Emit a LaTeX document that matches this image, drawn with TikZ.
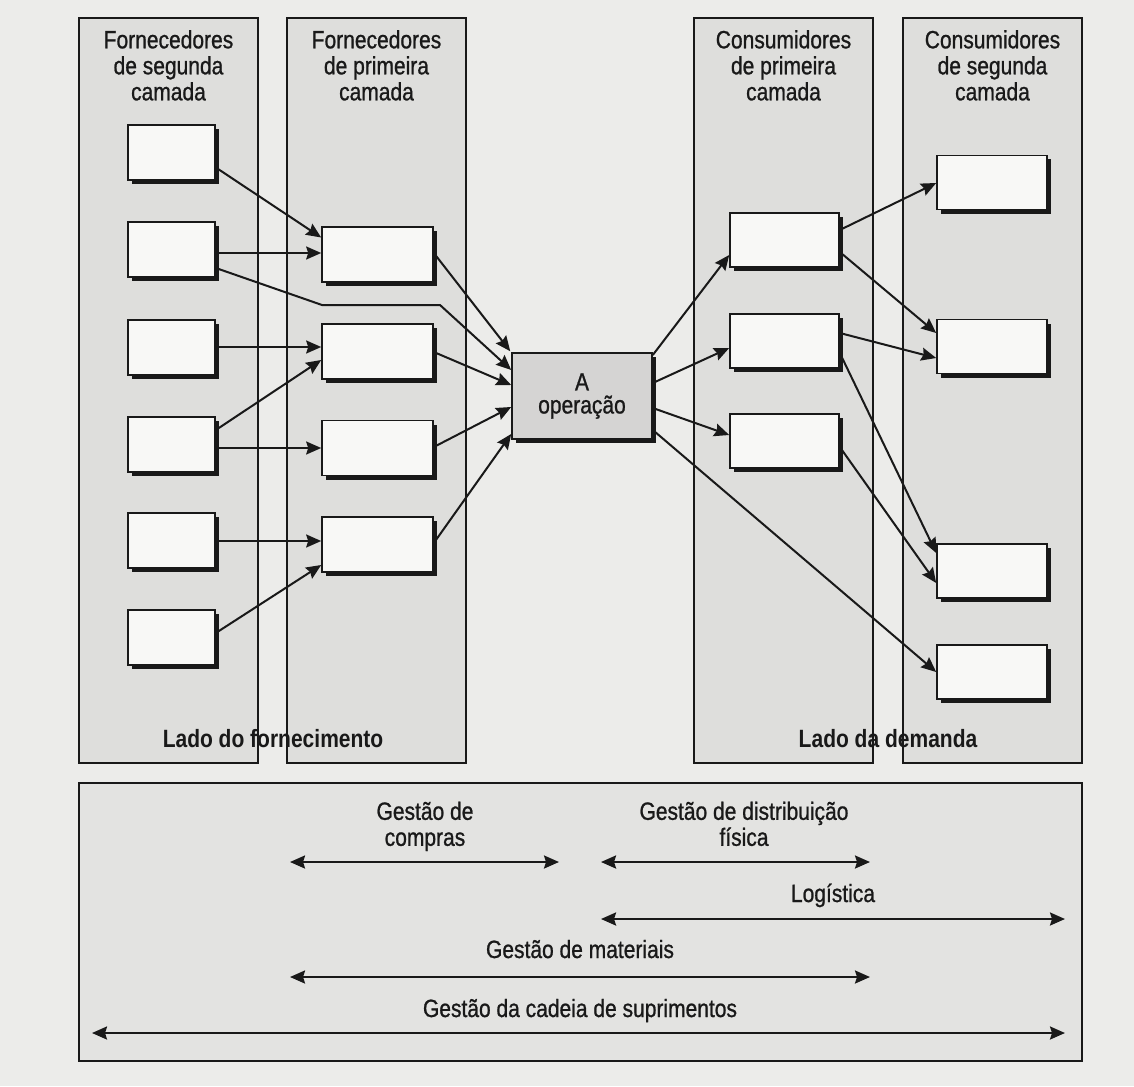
\documentclass[tikz,border=0pt]{standalone}
\usepackage{fontspec}
\setmainfont{Liberation Sans}[FakeStretch=0.84, UprightFeatures={FakeBold=0.9}]
\usetikzlibrary{arrows.meta,calc,shadows}

\definecolor{paper}{RGB}{236,236,234}
\definecolor{colfill}{RGB}{222,222,220}
\definecolor{bandfill}{RGB}{227,227,225}
\definecolor{unitfill}{RGB}{248,248,246}
\definecolor{opfill}{RGB}{213,212,211}
\definecolor{ink}{RGB}{25,25,25}

\tikzset{
  column/.style={draw=ink, fill=colfill, line width=1.5pt, inner sep=0pt,
    minimum width=179pt, minimum height=745pt},
  head/.style={anchor=north, align=center, inner sep=0pt, text=ink,
    font=\fontsize{25}{26}\selectfont},
  side/.style={anchor=base, inner sep=0pt, text=ink,
    font=\fontsize{25}{26}\selectfont\bfseries},
  label/.style={align=center, inner sep=0pt, text=ink,
    font=\fontsize{25}{26}\selectfont},
  unit/.style={draw=ink, fill=unitfill, line width=1.6pt, inner sep=0pt,
    drop shadow={opacity=1, fill=ink, shadow xshift=4pt, shadow yshift=-4pt}},
  tierA/.style={unit, minimum width=87pt, minimum height=55pt},
  tierB/.style={unit, minimum width=111pt, minimum height=55pt},
  tierC/.style={unit, minimum width=109pt, minimum height=54pt},
  tierD/.style={unit, minimum width=110pt, minimum height=54pt},
  opbox/.style={draw=ink, fill=opfill, line width=1.6pt, inner sep=0pt,
    minimum width=140pt, minimum height=86pt, align=center, text=ink,
    font=\fontsize{25}{23}\selectfont,
    drop shadow={opacity=1, fill=ink, shadow xshift=4pt, shadow yshift=-4pt}},
  conn/.style={draw=ink, line width=2pt, line join=round,
    -{Stealth[length=15pt, width=13pt, inset=2pt]}},
  span/.style={draw=ink, line width=2.3pt,
    {Stealth[length=15pt, width=13pt, inset=2pt]}-{Stealth[length=15pt, width=13pt, inset=2pt]}},
}

\begin{document}
\begin{tikzpicture}[x=1pt, y=-1pt]
  % page
  \fill[paper] (0,0) rectangle (1134,1086);
  \useasboundingbox (0,0) rectangle (1134,1086);

  % the four tiers
  \node[column] (col1) at (168.5,390.5) {};
  \node[column] (col2) at (376.5,390.5) {};
  \node[column] (col3) at (783.5,390.5) {};
  \node[column] (col4) at (992.5,390.5) {};

  % band of management scopes
  \node[draw=ink, fill=bandfill, line width=1.5pt, inner sep=0pt,
        minimum width=1003pt, minimum height=278pt] (band) at (580.5,922) {};

  % headers
  \node[head] (h1) at (168.5,30) {Fornecedores\\de segunda\\camada};
  \node[head] (h2) at (376.5,30) {Fornecedores\\de primeira\\camada};
  \node[head] (h3) at (783.5,30) {Consumidores\\de primeira\\camada};
  \node[head] (h4) at (992.5,30) {Consumidores\\de segunda\\camada};

  % bend points of the routed link
  \coordinate (bendA) at (322,305);
  \coordinate (bendB) at (440,305);

  % units (placed first so the links can refer to them)
  \path
    (171.5,152.5) node[tierA] (b1) {}
    (171.5,249.5) node[tierA] (b2) {}
    (171.5,347.5) node[tierA] (b3) {}
    (171.5,444.5) node[tierA] (b4) {}
    (171.5,540.5) node[tierA] (b5) {}
    (171.5,637.5) node[tierA] (b6) {}
    (377.5,254.5) node[tierB] (c1) {}
    (377.5,351.5) node[tierB] (c2) {}
    (377.5,448)   node[tierB] (c3) {}
    (377.5,544.5) node[tierB] (c4) {}
    (784.5,240)   node[tierC] (d1) {}
    (784.5,341)   node[tierC] (d2) {}
    (784.5,441)   node[tierC] (d3) {}
    (992,182.5)   node[tierD] (e1) {}
    (992,346.5)   node[tierD] (e2) {}
    (992,571)     node[tierD] (e3) {}
    (992,672)     node[tierD] (e4) {};

  \node[opbox] (op) at (582,396) {A\\operação};

  % supply side links
  \draw[conn] ($(b1.east)+(0,15)$)   -- ($(c1.west)+(0,-17)$);
  \draw[conn] ($(b2.east)+(0,3.5)$)  -- ($(c1.west)+(0,-1.5)$);
  \draw[conn] ($(b2.east)+(0,18.5)$) -- (bendA) -- (bendB) -- ($(op.west)+(0,-26)$);
  \draw[conn] ($(b3.east)+(0,-0.5)$) -- ($(c2.west)+(0,-4.5)$);
  \draw[conn] ($(b4.east)+(0,-14.5)$) -- ($(c2.west)+(0,8.5)$);
  \draw[conn] ($(b4.east)+(0,3.5)$)  -- (c3.west);
  \draw[conn] ($(b5.east)+(0,0.5)$)  -- ($(c4.west)+(0,-3.5)$);
  \draw[conn] ($(b6.east)+(0,-4.5)$) -- ($(c4.west)+(0,20.5)$);
  \draw[conn] ($(c1.east)+(0,-1.5)$) -- ($(op.north west)+(-1,-1)$);
  \draw[conn] ($(c2.east)+(0,0.5)$)  -- ($(op.west)+(0,-11)$);
  \draw[conn] ($(c3.east)+(0,-1)$)   -- ($(op.west)+(0,11)$);
  \draw[conn] ($(c4.east)+(0,-1.5)$) -- ($(op.west)+(0,38)$);

  % demand side links
  \draw[conn] ($(op.east)+(0,-41)$) -- ($(d1.west)+(0,15)$);
  \draw[conn] ($(op.east)+(0,-13)$) -- ($(d2.west)+(0,7)$);
  \draw[conn] ($(op.east)+(0,12)$)  -- ($(d3.west)+(0,-6)$);
  \draw[conn] ($(op.east)+(0,34)$)  -- (e4.west);
  \draw[conn] ($(d1.east)+(0,-10)$) -- ($(e1.west)+(0,0.5)$);
  \draw[conn] ($(d1.east)+(0,12)$)  -- ($(e2.west)+(0,-13.5)$);
  \draw[conn] ($(d2.east)+(0,-8)$)  -- ($(e2.west)+(0,11.5)$);
  \draw[conn] ($(d2.east)+(0,12)$)  -- ($(e3.west)+(0,-18)$);
  \draw[conn] ($(d3.east)+(0,6)$)   -- ($(e3.west)+(0,12)$);

  % units drawn again on top of the link ends
  \foreach \u/\s in {b1/tierA,b2/tierA,b3/tierA,b4/tierA,b5/tierA,b6/tierA,
                     c1/tierB,c2/tierB,c3/tierB,c4/tierB,
                     d1/tierC,d2/tierC,d3/tierC,
                     e1/tierD,e2/tierD,e3/tierD,e4/tierD}
    \node[\s] at (\u.center) {};
  \node[opbox] at (op.center) {A\\operação};

  % side captions
  \node[side] (sup) at (273,747) {Lado do fornecimento};
  \node[side] (dem) at (888,747) {Lado da demanda};

  % scope arrows
  \coordinate (p1l) at (290,862);  \coordinate (p1r) at (559,862);
  \coordinate (p2l) at (601,862);  \coordinate (p2r) at (870,862);
  \coordinate (p3l) at (601,919);  \coordinate (p3r) at (1065,919);
  \coordinate (p4l) at (290,977);  \coordinate (p4r) at (870,977);
  \coordinate (p5l) at (92,1033);  \coordinate (p5r) at (1065,1033);
  \draw[span] (p1l) -- (p1r);
  \draw[span] (p2l) -- (p2r);
  \draw[span] (p3l) -- (p3r);
  \draw[span] (p4l) -- (p4r);
  \draw[span] (p5l) -- (p5r);

  \node[label, anchor=north] (l1) at (425,801.5) {Gestão de\\compras};
  \node[label, anchor=north] (l2) at (744,801.5) {Gestão de distribuição\\física};
  \node[label, anchor=base]  (l3) at (833,902) {Logística};
  \node[label, anchor=base]  (l4) at (580,958) {Gestão de materiais};
  \node[label, anchor=base]  (l5) at (580,1017) {Gestão da cadeia de suprimentos};
\end{tikzpicture}
\end{document}
